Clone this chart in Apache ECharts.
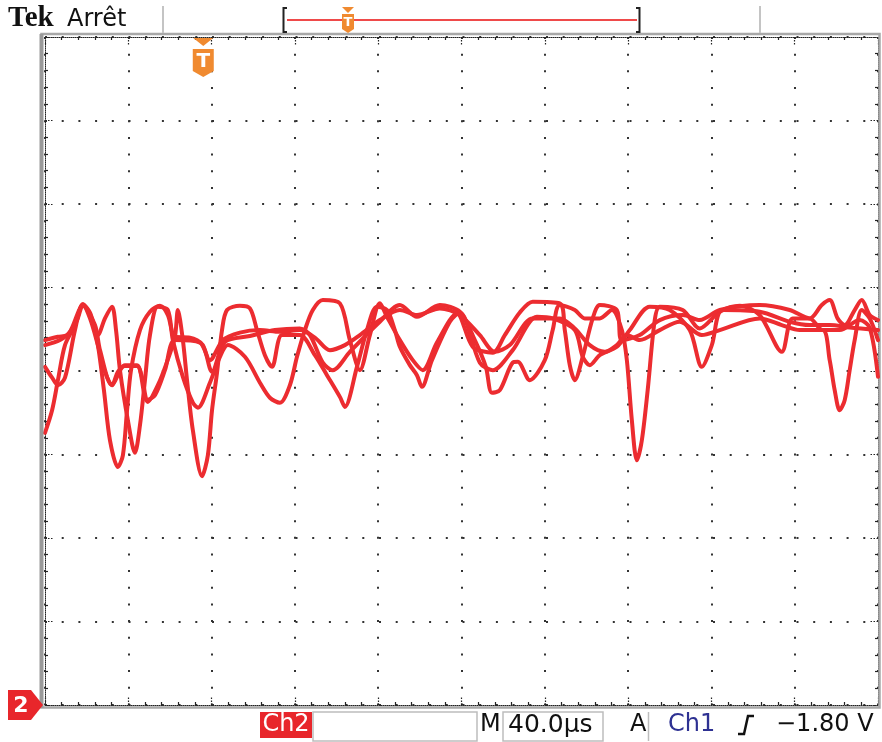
<!DOCTYPE html>
<html><head><meta charset="utf-8">
<script src="https://cdn.jsdelivr.net/npm/echarts@6/dist/echarts.min.js"></script>
<style>html,body{margin:0;padding:0;background:#fff}#c{width:882px;height:742px}</style>
</head><body><div id="c"></div>
<script>
// Time base: 40 µs/div, 10 divisions; vertical: 8 divisions, Ch2 ground at bottom (0 div)
const timePerDivUs = 40;
const xDivisions = 10;
const yDivisions = 8;
const triggerUs = 76;          // trigger position on the time axis
const triggerLevelText = '\u22121.80 V';
const timeBaseText = '40.0\u00b5s';

// Persistence sweeps of Ch2: [time µs, level in divisions]
const sweep1 = [[0,3.26],[3.4,3.53],[6.2,3.89],[9.6,4.31],[14.4,4.55],[18.2,4.80],[22.6,4.61],[25.4,4.31],[28.3,3.77],[31.2,3.17],[35,2.85],[37.4,2.99],[39.4,3.53],[41.3,4.01],[45.6,4.49],[50.4,4.71],[55.2,4.78],[59,4.67],[62.4,4.41],[69.6,4.40],[75.8,4.31],[80.2,3.99],[86.4,4.35],[98.4,4.42],[110.4,4.49],[122.4,4.51],[127.2,4.43],[133.4,4.10],[138.2,4.01],[146.4,4.23],[160.8,4.59],[170.4,4.79],[178.6,4.65],[189.6,4.79],[199.2,4.71],[206.4,4.37],[211.7,4.05],[214.6,3.74],[218.4,3.77],[224.6,4.10],[227,4.11],[232.8,3.89],[240,4.13],[243.8,4.49],[247.2,4.79],[254.4,4.73],[259.2,4.63],[266.4,4.63],[272.2,4.73],[277,4.49],[279.4,4.13],[281.8,3.41],[284.2,2.93],[286.6,3.17],[289.4,3.77],[292.8,4.61],[295.2,4.77],[306.2,4.73],[314.4,4.51],[324,4.71],[333.6,4.78],[343.2,4.67],[353.8,4.23],[359,4.63],[367.2,4.63],[373.4,4.49],[381.6,4.49],[391.2,4.61],[396,4.52],[400,3.93]];
const sweep2 = [[0,4.05],[3.4,3.92],[6.2,3.83],[9.6,3.92],[14.4,4.49],[18.2,4.80],[21.6,4.70],[25.4,4.43],[28.8,4.63],[32.2,4.77],[34.1,4.49],[36,4.01],[39.8,3.41],[43.2,3.02],[45.6,3.35],[48,3.89],[50.4,4.43],[54.2,4.77],[59,4.73],[61.4,4.37],[66.2,3.93],[71,3.62],[73.4,3.56],[79.2,3.86],[84,4.17],[87.8,4.31],[96,4.17],[103.2,3.86],[108,3.68],[112.8,3.62],[117.6,3.83],[121,4.17],[124.8,4.49],[128.6,4.73],[133.4,4.85],[141.6,4.81],[146.4,4.37],[151.2,4.01],[156,4.43],[160.8,4.81],[164.2,4.65],[170.4,4.37],[176.6,4.13],[181.4,4.01],[188.2,4.34],[197.8,4.69],[205.4,4.29],[215,4.22],[220.8,4.43],[228,4.70],[234.2,4.83],[247.2,4.81],[249.6,4.49],[252,4.07],[254.4,3.89],[258.2,4.17],[263,4.63],[266.4,4.79],[274.6,4.73],[277,4.37],[285.6,4.43],[295.2,4.61],[306.2,4.67],[314.4,4.61],[324,4.73],[343.2,4.79],[357.6,4.73],[367.2,4.63],[373,4.79],[376.8,4.85],[380.6,4.63],[384,4.55],[388.8,4.73],[392.2,4.85],[396,4.67],[400,4.61]];
const sweep3 = [[0,4.37],[6.2,4.41],[10.6,4.43],[15.4,4.61],[18.2,4.79],[21.6,4.63],[25.4,4.31],[28.8,3.99],[32.2,3.83],[35,3.99],[38.4,4.06],[44.2,4.06],[46.6,3.92],[49.4,3.63],[54.2,3.83],[58.6,4.11],[62.4,4.41],[63.8,4.73],[66.2,4.37],[68.2,3.89],[71,3.29],[75.4,2.74],[78.2,2.99],[80.2,3.53],[82.6,3.98],[85,4.49],[87.4,4.73],[93.6,4.78],[98.4,4.75],[101.8,4.49],[105.6,4.19],[109,4.05],[113.8,4.43],[122.4,4.43],[129.6,4.19],[135.4,3.95],[141.6,3.69],[144,3.57],[149.8,4.05],[154.6,4.49],[159.4,4.77],[164.2,4.73],[168,4.49],[170.4,4.29],[175.2,4.07],[178.6,3.95],[181,3.81],[185.8,4.13],[194.4,4.59],[199.2,4.70],[208.8,4.10],[215,4.01],[224.6,4.25],[236.2,4.65],[243.8,4.63],[254.4,4.49],[258.2,4.17],[261.6,4.07],[266.4,4.19],[274.6,4.29],[280.8,4.49],[290.4,4.77],[300,4.73],[309.6,4.49],[315.4,4.05],[320.2,4.31],[325.4,4.73],[343.2,4.71],[357.6,4.59],[367.2,4.55],[376.8,4.55],[386.4,4.52],[400,4.49]];
const sweep4 = [[0,4.31],[7.2,4.37],[12,4.47],[18.2,4.78],[24,4.55],[26.4,4.25],[32.2,3.83],[38.4,4.07],[44.2,4.07],[49,3.65],[52.8,3.71],[57.6,4.01],[62.4,4.37],[74.4,4.34],[79.2,4.13],[85.4,4.37],[93.6,4.46],[103.2,4.49],[112.8,4.47],[122.4,4.49],[129.6,4.40],[136.8,4.25],[144,4.31],[151.2,4.43],[160.8,4.61],[170.4,4.73],[178.6,4.67],[189.6,4.75],[199.2,4.67],[208.8,4.43],[216,4.23],[223.2,4.31],[234.2,4.63],[247.2,4.63],[254.4,4.51],[261.6,4.31],[268.8,4.23],[274.6,4.31],[279.4,4.43],[285.6,4.37],[295.2,4.49],[304.8,4.59],[315.4,4.43],[324,4.49],[343.2,4.63],[353.8,4.55],[362.4,4.49],[373.4,4.49],[376.8,4.13],[379.2,3.77],[381.6,3.53],[384,3.65],[386.4,4.01],[388.8,4.37],[392.2,4.73],[396,4.63],[400,4.37]];
const sweeps = [sweep1, sweep2, sweep3, sweep4];

const RED = '#ec2c30';
const ORANGE = '#f08a30';
const UI_FONT = '"DejaVu Sans", sans-serif';

const chart = echarts.init(document.getElementById('c'), null, {renderer: 'canvas'});

function xAxis(pos, grid) {
  return {
    type: 'value', min: 0, max: timePerDivUs * xDivisions, interval: timePerDivUs, position: pos,
    axisLabel: {show: false},
    axisLine: {show: true, onZero: false, lineStyle: {color: '#222', width: 1, type: [1, 1]}},
    axisTick: {show: true, inside: true, length: 9, lineStyle: {color: '#222', width: 1.2, type: [1.5, 1.5]}},
    minorTick: {show: true, splitNumber: 5, length: 3, lineStyle: {color: '#222', width: 1.2}},
    splitLine: {show: grid, lineStyle: {color: '#333', width: 2, type: [2, 14.66]}}
  };
}
function yAxis(pos, grid) {
  return {
    type: 'value', min: 0, max: yDivisions, interval: 1, position: pos,
    axisLabel: {show: false},
    axisLine: {show: true, onZero: false, lineStyle: {color: '#222', width: 1, type: [1, 1]}},
    axisTick: {show: true, inside: true, length: 9, lineStyle: {color: '#222', width: 1.2, type: [1.5, 1.5]}},
    minorTick: {show: true, splitNumber: 5, length: 3, lineStyle: {color: '#222', width: 1.2}},
    splitLine: {show: grid, lineStyle: {color: '#333', width: 2, type: [2, 14.7]}}
  };
}

const option = {
  animation: false,
  backgroundColor: '#fff',
  grid: {left: 45, top: 37, width: 833, height: 668, show: false},
  xAxis: [xAxis('bottom', true), xAxis('top', false)],
  yAxis: [yAxis('left', true), yAxis('right', false)],
  series: sweeps.map((d, i) => ({
    type: 'line', name: 'sweep' + (i + 1), data: d, xAxisIndex: 0, yAxisIndex: 0,
    showSymbol: false, symbol: 'none', z: 5,
    smooth: 0.3,
    lineStyle: {color: RED, width: 4, join: 'round', cap: 'round'}
  }))
};
chart.setOption(option);

// Decorations (scope UI)
const trig = chart.convertToPixel({xAxisIndex: 0, yAxisIndex: 0}, [triggerUs, yDivisions]);
const gnd = chart.convertToPixel({xAxisIndex: 0, yAxisIndex: 0}, [0, 0]);
const tx = trig[0], ty = trig[1];

function text(x, y, s, font, fill, align) {
  return {type: 'text', x: x, y: y, z: 20, style: {text: s, font: font, fill: fill || '#111', align: align || 'left', verticalAlign: 'middle'}};
}
function line(x1, y1, x2, y2, stroke, w) {
  return {type: 'line', z: 15, shape: {x1, y1, x2, y2}, style: {stroke: stroke, lineWidth: w}};
}

const graphics = [
  // frame
  {type: 'rect', z: 1, shape: {x: 41.5, y: 34, width: 838, height: 673.5}, style: {fill: 'none', stroke: '#a8a8a8', lineWidth: 2.5}},
  line(41.5, 34, 41.5, 708, '#9a9a9a', 4),
  // header
  text(8, 19, 'Tek', 'bold 29px "Liberation Serif", serif', '#111'),
  text(67, 20, 'Arr\u00eat', '24px ' + UI_FONT, '#111'),
  line(163, 6, 163, 33, '#c4c4c4', 2),
  line(760, 6, 760, 33, '#c4c4c4', 2),
  line(287, 20, 637, 20, '#ef4a4a', 2),
  {type: 'polyline', z: 15, shape: {points: [[287, 8], [283.5, 8], [283.5, 32], [287, 32]]}, style: {stroke: '#222', lineWidth: 2, fill: 'none'}},
  {type: 'polyline', z: 15, shape: {points: [[636, 8], [639.5, 8], [639.5, 32], [636, 32]]}, style: {stroke: '#222', lineWidth: 2, fill: 'none'}},
  {type: 'polygon', z: 16, shape: {points: [[342, 7], [354, 7], [348, 13]]}, style: {fill: ORANGE}},
  {type: 'polygon', z: 16, shape: {points: [[342, 14], [354, 14], [354, 29], [348, 33], [342, 29]]}, style: {fill: ORANGE}},
  text(348, 23, 'T', 'bold 13px ' + UI_FONT, '#fff', 'center'),
  // trigger marker in plot
  {type: 'polygon', z: 16, shape: {points: [[tx - 10, ty + 1], [tx + 10, ty + 1], [tx, ty + 9]]}, style: {fill: ORANGE}},
  {type: 'polygon', z: 16, shape: {points: [[tx - 10.5, ty + 12], [tx + 10.5, ty + 12], [tx + 10.5, ty + 34], [tx, ty + 40], [tx - 10.5, ty + 34]]}, style: {fill: ORANGE}},
  text(tx, ty + 25, 'T', 'bold 20px ' + UI_FONT, '#fff', 'center'),
  // ground marker for Ch2
  {type: 'polygon', z: 16, shape: {points: [[8, gnd[1] - 15], [31, gnd[1] - 15], [gnd[0] - 2, gnd[1]], [31, gnd[1] + 15], [8, gnd[1] + 15]]}, style: {fill: '#e8262b'}},
  text(21, gnd[1] + 1, '2', 'bold 22px ' + UI_FONT, '#fff', 'center'),
  // footer
  {type: 'rect', z: 15, shape: {x: 260, y: 712, width: 52, height: 26}, style: {fill: '#e8262b'}},
  text(286, 725, 'Ch2', '24px ' + UI_FONT, '#fff', 'center'),
  {type: 'rect', z: 15, shape: {x: 313, y: 712, width: 164, height: 29}, style: {fill: 'none', stroke: '#bdbdbd', lineWidth: 1.5}},
  text(480, 725, 'M', '24px ' + UI_FONT, '#111'),
  {type: 'rect', z: 15, shape: {x: 503, y: 712, width: 100, height: 29}, style: {fill: 'none', stroke: '#bdbdbd', lineWidth: 1.5}},
  text(508, 725, timeBaseText, '25px ' + UI_FONT, '#111'),
  text(630, 725, 'A', '24px ' + UI_FONT, '#111'),
  line(648.5, 712, 648.5, 741, '#bdbdbd', 1.5),
  text(668, 725, 'Ch1', '24px ' + UI_FONT, '#2e3192'),
  {type: 'polyline', z: 15, shape: {points: [[738, 734], [744, 734], [748, 716], [754, 716]]}, style: {stroke: '#111', lineWidth: 2.5, fill: 'none'}},
  text(776, 725, triggerLevelText, '24px ' + UI_FONT, '#111')
];
chart.setOption({graphic: graphics});
</script>
</body></html>
